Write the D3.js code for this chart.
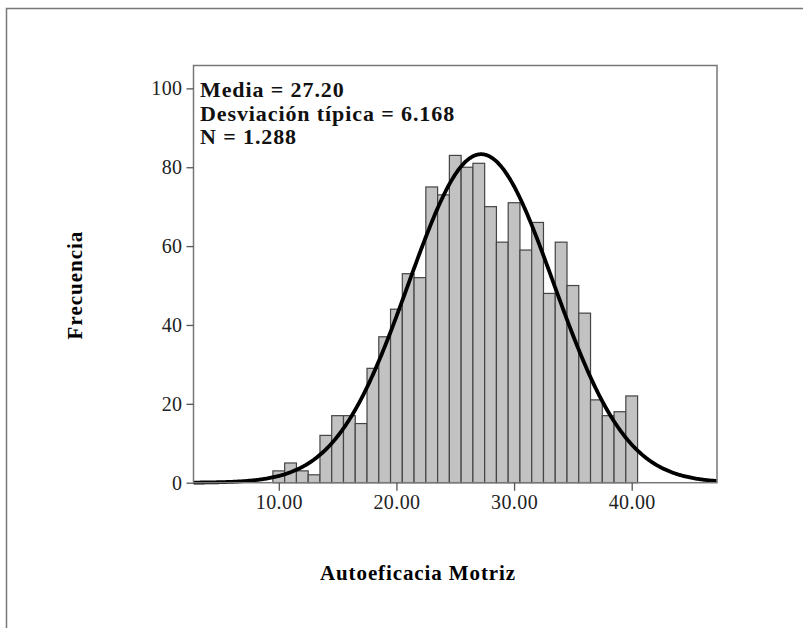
<!DOCTYPE html>
<html>
<head>
<meta charset="utf-8">
<script src="https://cdn.jsdelivr.net/npm/d3@7"></script>
<style>
  body { margin: 0; background: #fff; }
  svg { display: block; font-family: "Liberation Serif", "DejaVu Serif", serif; }
</style>
</head>
<body>
<svg id="chart" width="803" height="628"></svg>
<script>
// bin centres (width 1) and counts
const binCenters = [10, 11, 12, 13, 14, 15, 16, 17, 18, 19, 20, 21, 22, 23, 24, 25,
                    26, 27, 28, 29, 30, 31, 32, 33, 34, 35, 36, 37, 38, 39, 40];
const counts = [3, 5, 3, 2, 12, 17, 17, 15, 29, 37, 44, 53, 52, 75, 73, 83,
                80, 81, 70, 61, 71, 59, 66, 48, 61, 50, 43, 21, 17, 18, 22];
const xTicks = [10, 20, 30, 40];
const yTicks = [0, 20, 40, 60, 80, 100];
const statsLines = ["Media = 27.20", "Desviación típica = 6.168", "N = 1.288"];
const mean = 27.2, sd = 6.168, n = 1288, binWidth = 1;

const svg = d3.select("#chart");

// outer frame (left and top edges only)
svg.append("path")
    .attr("d", "M6.5,628 V8.5 H803")
    .attr("fill", "none")
    .attr("stroke", "#777")
    .attr("stroke-width", 1.5);

const plot = {left: 193.5, right: 717, top: 65.5, bottom: 482.7};

const x = d3.scaleLinear().domain([2.75, 47.25]).range([plot.left, plot.right]);
const y = d3.scaleLinear().domain([0, 105.8]).range([plot.bottom, plot.top]);

const g = svg.append("g");

// bars
g.selectAll("rect.bar")
    .data(binCenters)
    .enter()
    .append("rect")
    .attr("class", "bar")
    .attr("x", (d) => x(d - binWidth / 2))
    .attr("width", (d) => x(d + binWidth / 2) - x(d - binWidth / 2))
    .attr("y", (d, i) => y(counts[i]))
    .attr("height", (d, i) => y(0) - y(counts[i]))
    .attr("fill", "#c2c2c2")
    .attr("stroke", "#444")
    .attr("stroke-width", 1.2);

// fitted normal curve
const curvePts = d3.range(x.domain()[0], x.domain()[1] + 0.001, 0.1).map(function (v) {
    const z = (v - mean) / sd;
    return [v, n * binWidth * Math.exp(-0.5 * z * z) / (sd * Math.sqrt(2 * Math.PI))];
});
g.append("path")
    .datum(curvePts)
    .attr("fill", "none")
    .attr("stroke", "#000")
    .attr("stroke-width", 3.8)
    .attr("d", d3.line().x((d) => x(d[0])).y((d) => y(d[1])));

// plot box
g.append("rect")
    .attr("x", plot.left)
    .attr("y", plot.top)
    .attr("width", plot.right - plot.left)
    .attr("height", plot.bottom - plot.top)
    .attr("fill", "none")
    .attr("stroke", "#777")
    .attr("stroke-width", 1.5);

// axes
const xAxis = g.append("g")
    .attr("transform", `translate(0,${plot.bottom})`)
    .call(d3.axisBottom(x).tickValues(xTicks).tickSize(8).tickPadding(4).tickFormat(d3.format(".2f")));
const yAxis = g.append("g")
    .attr("transform", `translate(${plot.left},0)`)
    .call(d3.axisLeft(y).tickValues(yTicks).tickSize(7).tickPadding(4));

[xAxis, yAxis].forEach(function (a) {
    a.select(".domain").remove();
    a.selectAll(".tick line").attr("stroke", "#555").attr("stroke-width", 1.3);
    a.selectAll(".tick text")
        .attr("font-family", "Liberation Serif, serif")
        .attr("font-size", 20)
        .attr("letter-spacing", 0.4)
        .attr("fill", "#222");
});

// statistics box text
g.append("text")
    .attr("x", 200)
    .attr("y", 97)
    .attr("font-size", 22)
    .attr("font-weight", "bold")
    .attr("letter-spacing", 0.9)
    .attr("fill", "#111")
    .selectAll("tspan")
    .data(statsLines)
    .enter()
    .append("tspan")
    .attr("x", 200)
    .attr("dy", (d, i) => i === 0 ? 0 : 23.5)
    .text((d) => d);

// axis titles
svg.append("text")
    .attr("x", 418)
    .attr("y", 580)
    .attr("text-anchor", "middle")
    .attr("font-size", 21)
    .attr("font-weight", "bold")
    .attr("letter-spacing", 0.9)
    .text("Autoeficacia Motriz");

svg.append("text")
    .attr("transform", "translate(82,285) rotate(-90)")
    .attr("text-anchor", "middle")
    .attr("font-size", 21)
    .attr("font-weight", "bold")
    .attr("letter-spacing", 1)
    .text("Frecuencia");
</script>
</body>
</html>
